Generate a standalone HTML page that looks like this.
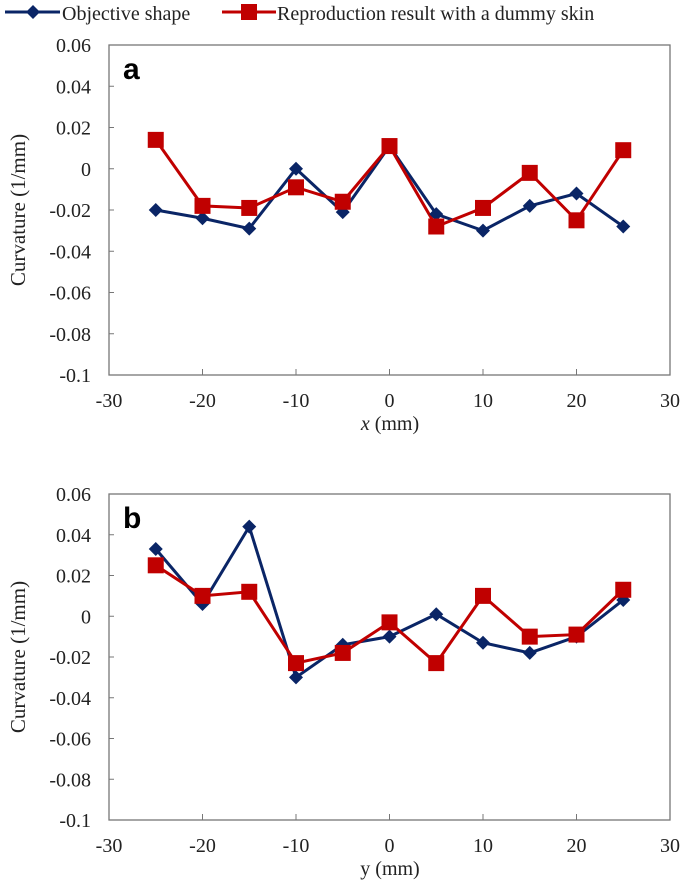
<!DOCTYPE html>
<html><head><meta charset="utf-8"><style>
body{margin:0;background:#fff;}
svg{display:block;font-family:"Liberation Serif",serif;}
</style></head><body>
<svg id="c" width="685" height="886" viewBox="0 0 685 886"></svg>
<script>
const xCats=[-25,-20,-15,-10,-5,0,5,10,15,20,25];
const aObjective=[-0.020,-0.024,-0.029,0.000,-0.021,0.011,-0.022,-0.030,-0.018,-0.012,-0.028];
const aReproduction=[0.014,-0.018,-0.019,-0.009,-0.016,0.011,-0.028,-0.019,-0.002,-0.025,0.009];
const bObjective=[0.033,0.006,0.044,-0.030,-0.014,-0.010,0.001,-0.013,-0.018,-0.010,0.008];
const bReproduction=[0.025,0.010,0.012,-0.023,-0.018,-0.003,-0.023,0.010,-0.010,-0.009,0.013];
const xTicks=[-30,-20,-10,0,10,20,30];
const yTicks=[0.06,0.04,0.02,0,-0.02,-0.04,-0.06,-0.08,-0.1];
const NS="http://www.w3.org/2000/svg";
const svg=document.getElementById('c');
function mk(tag,attrs,parent){const e=document.createElementNS(NS,tag);for(const k in attrs)e.setAttribute(k,attrs[k]);(parent||svg).appendChild(e);return e;}
const BLUE="#0a2566",RED="#c00000";
function diamond(g,x,y){return mk('polygon',{points:`${x},${y-7} ${x+7},${y} ${x},${y+7} ${x-7},${y}`,fill:BLUE},g);}
function square(g,x,y){return mk('rect',{x:x-8,y:y-8,width:16,height:16,fill:RED},g);}
function panel(name,top,bottom,letter,xlabel,italic,obj,rep){
  const L=109,R=670;
  const g=mk('g',{});
  
  
  const sx=v=>L+(v+30)/60*(R-L);
  const sy=v=>top+(0.06-v)/0.16*(bottom-top);
  const f=mk('rect',{x:L,y:top,width:R-L,height:bottom-top,fill:'none',stroke:'#777','stroke-width':1.3},g);
  
  yTicks.forEach(t=>{
    mk('line',{x1:L,x2:L+5,y1:sy(t),y2:sy(t),stroke:'#777'},g);
    const tx=mk('text',{x:L-18,y:sy(t)+7,'text-anchor':'end','font-size':20,fill:'#222'},g);
    tx.textContent=(t===0?'0':String(t));
    
  });
  xTicks.forEach(t=>{
    mk('line',{x1:sx(t),x2:sx(t),y1:bottom,y2:bottom-6,stroke:'#777'},g);
    const tx=mk('text',{x:sx(t),y:bottom+32,'text-anchor':'middle','font-size':20,fill:'#222'},g);
    tx.textContent=String(t);
    
  });
  const yt=mk('text',{transform:`translate(25,${(top+bottom)/2}) rotate(-90)`,'text-anchor':'middle','font-size':21,fill:'#222'},g);
  yt.textContent='Curvature (1/mm)';
  
  const xt=mk('text',{x:390,y:bottom+55,'text-anchor':'middle','font-size':20,fill:'#222'},g);
  if(italic){const s=mk('tspan',{'font-style':'italic'},xt);s.textContent=xlabel;const s2=mk('tspan',{},xt);s2.textContent=' (mm)';}
  else xt.textContent=xlabel+' (mm)';
  
  const lt=mk('text',{x:L+14,y:top+34,'font-size':30,'font-weight':'bold','font-family':'Liberation Sans, sans-serif',fill:'#000'},g);
  lt.textContent=letter;
  
  const pl1=mk('polyline',{points:xCats.map((c,i)=>sx(c)+','+sy(obj[i])).join(' '),fill:'none',stroke:BLUE,'stroke-width':3},g);
  
  const pl2=mk('polyline',{points:xCats.map((c,i)=>sx(c)+','+sy(rep[i])).join(' '),fill:'none',stroke:RED,'stroke-width':3},g);
  
  xCats.forEach((c,i)=>{const d=diamond(g,sx(c),sy(obj[i]));});
  xCats.forEach((c,i)=>{const s=square(g,sx(c),sy(rep[i]));});
}
panel('panel-a',45,375,'a','x',true,aObjective,aReproduction);
panel('panel-b',494,820,'b','y',false,bObjective,bReproduction);
const lg=mk('g',{});


mk('line',{x1:5,x2:60,y1:12,y2:12,stroke:BLUE,'stroke-width':3},lg);
diamond(lg,33,12);
const l1=mk('text',{x:62,y:20,'font-size':20,fill:'#222'},lg);l1.textContent='Objective shape';

mk('line',{x1:222,x2:276,y1:12,y2:12,stroke:RED,'stroke-width':3},lg);
square(lg,249,12);
const l2=mk('text',{x:277,y:20,'font-size':20,fill:'#222'},lg);l2.textContent='Reproduction result with a dummy skin';

</script>
</body></html>
